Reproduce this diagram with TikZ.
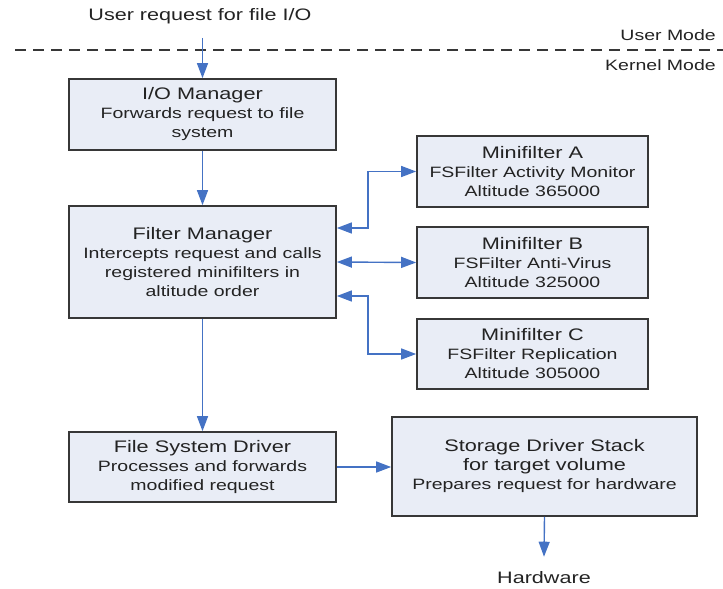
\documentclass[tikz,border=0pt]{standalone}
\usepackage{fontspec}
\setmainfont{Liberation Sans}[FakeStretch=1.3]
\usetikzlibrary{arrows.meta}
\definecolor{boxfill}{RGB}{233,237,246}
\definecolor{boxdraw}{RGB}{55,55,55}
\definecolor{arr}{RGB}{68,114,196}
\definecolor{txt}{RGB}{35,35,35}
\newcommand{\ttlfont}{\fontsize{16.7}{19}\selectfont}
\begin{document}
\begin{tikzpicture}[x=1pt,y=-1pt,
  box/.style={draw=boxdraw, fill=boxfill, line width=1.7pt, align=center, text=txt,
    font=\fontsize{15}{19}\selectfont, inner sep=0pt},
  conn/.style={draw=arr, line width=1.4pt, -{Triangle[length=15pt,width=11pt]}},
  biconn/.style={draw=arr, line width=1.4pt, {Triangle[length=15pt,width=11pt]}-{Triangle[length=15pt,width=11pt]}},
  lbl/.style={text=txt, inner sep=0pt}]
\useasboundingbox (0,0) rectangle (723,589);

\node[lbl, font=\fontsize{16.6}{19}\selectfont] (user) at (200,16) {User request for file I/O};
\draw[boxdraw, line width=1.3pt, dash pattern=on 11pt off 7pt] (15,50) -- (723,50);
\node[lbl, anchor=east, font=\fontsize{15}{17}\selectfont] (um) at (716,35) {User Mode};
\node[lbl, anchor=east, font=\fontsize{15}{17}\selectfont] (km) at (716,65) {Kernel Mode};

\node[box, minimum width=267pt, minimum height=71pt] (io) at (202.5,114.5)
  {{\ttlfont I/O Manager}\\Forwards request to file\\system};
\node[box, minimum width=267pt, minimum height=112pt] (fm) at (202.5,262)
  {{\ttlfont Filter Manager}\\Intercepts request and calls\\registered minifilters in\\altitude order};
\node[box, minimum width=267pt, minimum height=70pt] (fsd) at (202.5,467)
  {{\ttlfont File System Driver}\\Processes and forwards\\modified request};

\node[box, minimum width=231pt, minimum height=71pt] (ma) at (532.5,171.5)
  {{\ttlfont Minifilter A}\\FSFilter Activity Monitor\\Altitude 365000};
\node[box, minimum width=231pt, minimum height=71pt] (mb) at (532.5,262.5)
  {{\ttlfont Minifilter B}\\FSFilter Anti-Virus\\Altitude 325000};
\node[box, minimum width=231pt, minimum height=70pt] (mc) at (532.5,354)
  {{\ttlfont Minifilter C}\\FSFilter Replication\\Altitude 305000};

\node[box, minimum width=305pt, minimum height=99pt] (sds) at (544.5,466.5)
  {{\ttlfont Storage Driver Stack}\\{\ttlfont for target volume}\\Prepares request for hardware};

\node[lbl, font=\fontsize{16.6}{19}\selectfont, inner ysep=15pt] (hw) at (544,578) {Hardware};

\draw[conn] (io.north |- user.south) ++(0,14) -- (io.north);
\draw[conn] (io.south) -- (fm.north);
\draw[conn] (fm.south) -- (fsd.north);
\draw[biconn] ([yshift=34pt]fm.east) -- ++(31,0) |- (ma.west);
\draw[biconn] (fm.east) -- (mb.west);
\draw[biconn] ([yshift=-34pt]fm.east) -- ++(31,0) |- (mc.west);
\draw[conn] (fsd.east) -- (fsd.east -| sds.west);
\draw[conn] (sds.south) -- (hw.north);
\end{tikzpicture}
\end{document}
